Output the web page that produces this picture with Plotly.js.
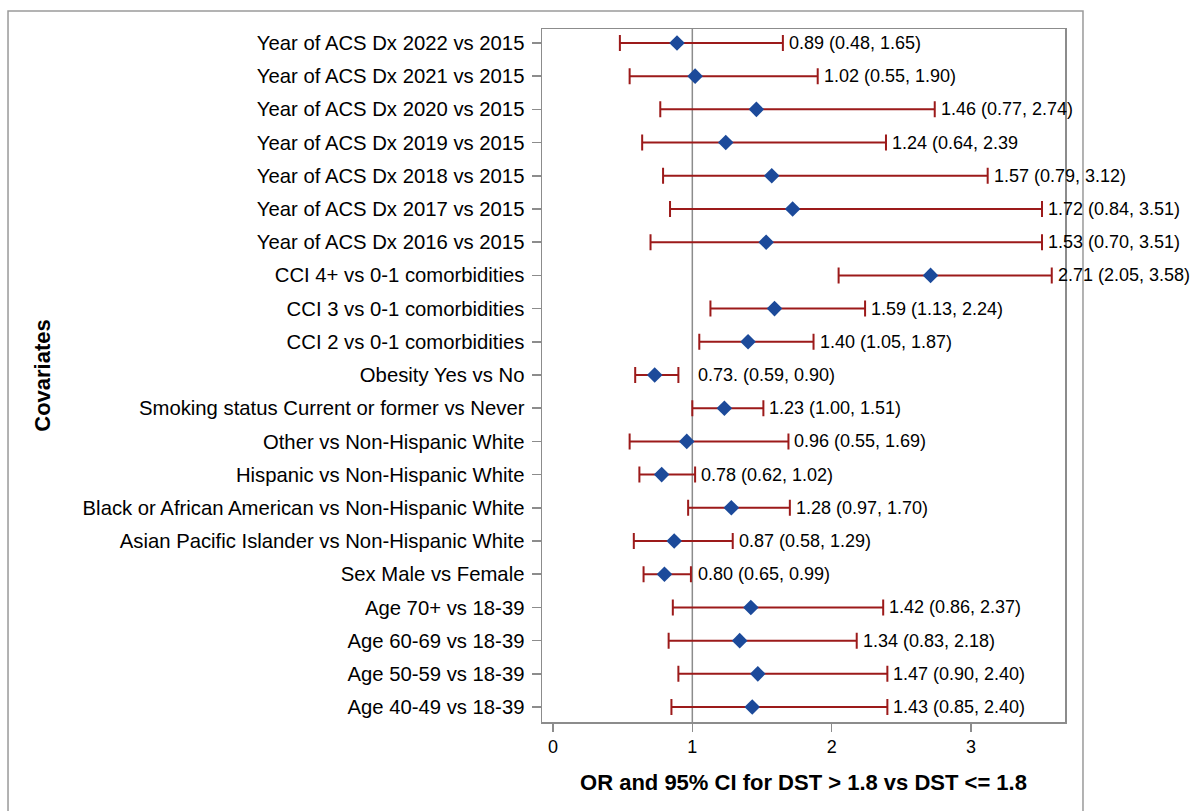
<!DOCTYPE html>
<html>
<head>
<meta charset="utf-8">
<script src="https://cdn.plot.ly/plotly-3.0.1.min.js"></script>
<style>
html,body{margin:0;padding:0;background:#fff;}
#chart{width:1194px;height:811px;}
</style>
</head>
<body>
<div id="chart"></div>
<script>
// Covariates listed top to bottom
const covariates = [
  "Year of ACS Dx 2022 vs 2015",
  "Year of ACS Dx 2021 vs 2015",
  "Year of ACS Dx 2020 vs 2015",
  "Year of ACS Dx 2019 vs 2015",
  "Year of ACS Dx 2018 vs 2015",
  "Year of ACS Dx 2017 vs 2015",
  "Year of ACS Dx 2016 vs 2015",
  "CCI 4+ vs 0-1 comorbidities",
  "CCI 3 vs 0-1 comorbidities",
  "CCI 2 vs 0-1 comorbidities",
  "Obesity Yes vs No",
  "Smoking status Current or former vs Never",
  "Other vs Non-Hispanic White",
  "Hispanic vs Non-Hispanic White",
  "Black or African American vs Non-Hispanic White",
  "Asian Pacific Islander vs Non-Hispanic White",
  "Sex Male vs Female",
  "Age 70+ vs 18-39",
  "Age 60-69 vs 18-39",
  "Age 50-59 vs 18-39",
  "Age 40-49 vs 18-39"
];
const oddsRatio = [0.89, 1.02, 1.46, 1.24, 1.57, 1.72, 1.53, 2.71, 1.59, 1.40, 0.73, 1.23, 0.96, 0.78, 1.28, 0.87, 0.80, 1.42, 1.34, 1.47, 1.43];
const ciLower   = [0.48, 0.55, 0.77, 0.64, 0.79, 0.84, 0.70, 2.05, 1.13, 1.05, 0.59, 1.00, 0.55, 0.62, 0.97, 0.58, 0.65, 0.86, 0.83, 0.90, 0.85];
const ciUpper   = [1.65, 1.90, 2.74, 2.39, 3.12, 3.51, 3.51, 3.58, 2.24, 1.87, 0.90, 1.51, 1.69, 1.02, 1.70, 1.29, 0.99, 2.37, 2.18, 2.40, 2.40];
const ciLabels  = [
  "0.89 (0.48, 1.65)", "1.02 (0.55, 1.90)", "1.46 (0.77, 2.74)", "1.24 (0.64, 2.39",
  "1.57 (0.79, 3.12)", "1.72 (0.84, 3.51)", "1.53 (0.70, 3.51)", "2.71 (2.05, 3.58)",
  "1.59 (1.13, 2.24)", "1.40 (1.05, 1.87)", "0.73. (0.59, 0.90)", "1.23 (1.00, 1.51)",
  "0.96 (0.55, 1.69)", "0.78 (0.62, 1.02)", "1.28 (0.97, 1.70)", "0.87 (0.58, 1.29)",
  "0.80 (0.65, 0.99)", "1.42 (0.86, 2.37)", "1.34 (0.83, 2.18)", "1.47 (0.90, 2.40)",
  "1.43 (0.85, 2.40)"
];
const xTicks = [0, 1, 2, 3];
const referenceOR = 1;

const FONT = "Liberation Sans, Arial, Helvetica, sans-serif";
const RED = "#9c1a1a";
const BLUE = "#1c4a9a";
const GREY = "#8c8c8c";

const trace = {
  type: "scatter",
  mode: "markers",
  x: oddsRatio,
  y: covariates,
  marker: {symbol: "diamond", size: 12, color: BLUE, line: {width: 0}},
  error_x: {
    type: "data", symmetric: false,
    array: oddsRatio.map((v, i) => ciUpper[i] - v),
    arrayminus: oddsRatio.map((v, i) => v - ciLower[i]),
    color: RED, thickness: 2, width: 8
  },
  cliponaxis: false,
  hoverinfo: "skip",
  showlegend: false
};

const annotations = ciLabels.map((t, i) => ({
  x: Math.max(ciUpper[i], referenceOR),
  y: covariates[i],
  xref: "x", yref: "y",
  text: t,
  showarrow: false,
  xanchor: "left", yanchor: "middle",
  xshift: 4,
  font: {family: FONT, size: 18, color: "#000"}
}));

const layout = {
  width: 1194, height: 811,
  margin: {l: 542, r: 129, t: 29, b: 89, pad: 0},
  paper_bgcolor: "#fff", plot_bgcolor: "#fff",
  font: {family: FONT, color: "#000"},
  showlegend: false,
  xaxis: {
    range: [-0.079, 3.675],
    tickvals: xTicks,
    ticktext: xTicks.map(String),
    ticks: "outside", ticklen: 8, tickwidth: 1.5, tickcolor: GREY,
    showgrid: false, zeroline: false,
    showline: true, linecolor: GREY, linewidth: 1.5, mirror: true,
    tickfont: {family: FONT, size: 18, color: "#000"},
    title: {text: "OR and 95% CI for DST > 1.8 vs DST <= 1.8", font: {family: FONT, size: 22, color: "#000", weight: "bold"}, standoff: 18}
  },
  yaxis: {
    type: "category",
    categoryorder: "array",
    categoryarray: covariates,
    range: [20.45, -0.42],
    ticks: "outside", ticklen: 9, tickwidth: 1.5, tickcolor: GREY,
    ticklabelstandoff: 3,
    showgrid: false, zeroline: false,
    showline: true, linecolor: GREY, linewidth: 1.5, mirror: true,
    tickfont: {family: FONT, size: 20.3, color: "#000"},
    title: {text: "Covariates", font: {family: FONT, size: 22, color: "#000", weight: "bold"}, standoff: 26}
  },
  shapes: [
    {type: "line", xref: "x", yref: "paper", x0: referenceOR, x1: referenceOR, y0: 0, y1: 1,
     line: {color: GREY, width: 1.5}, layer: "below"},
    {type: "rect", xref: "paper", yref: "paper", x0: -1.021, x1: 1.0344, y0: -0.14, y1: 1.026,
     line: {color: "#9a9a9a", width: 1.5}, fillcolor: "rgba(0,0,0,0)", layer: "below"}
  ],
  annotations: annotations
};

Plotly.newPlot("chart", [trace], layout, {displayModeBar: false, staticPlot: true});
</script>
</body>
</html>
